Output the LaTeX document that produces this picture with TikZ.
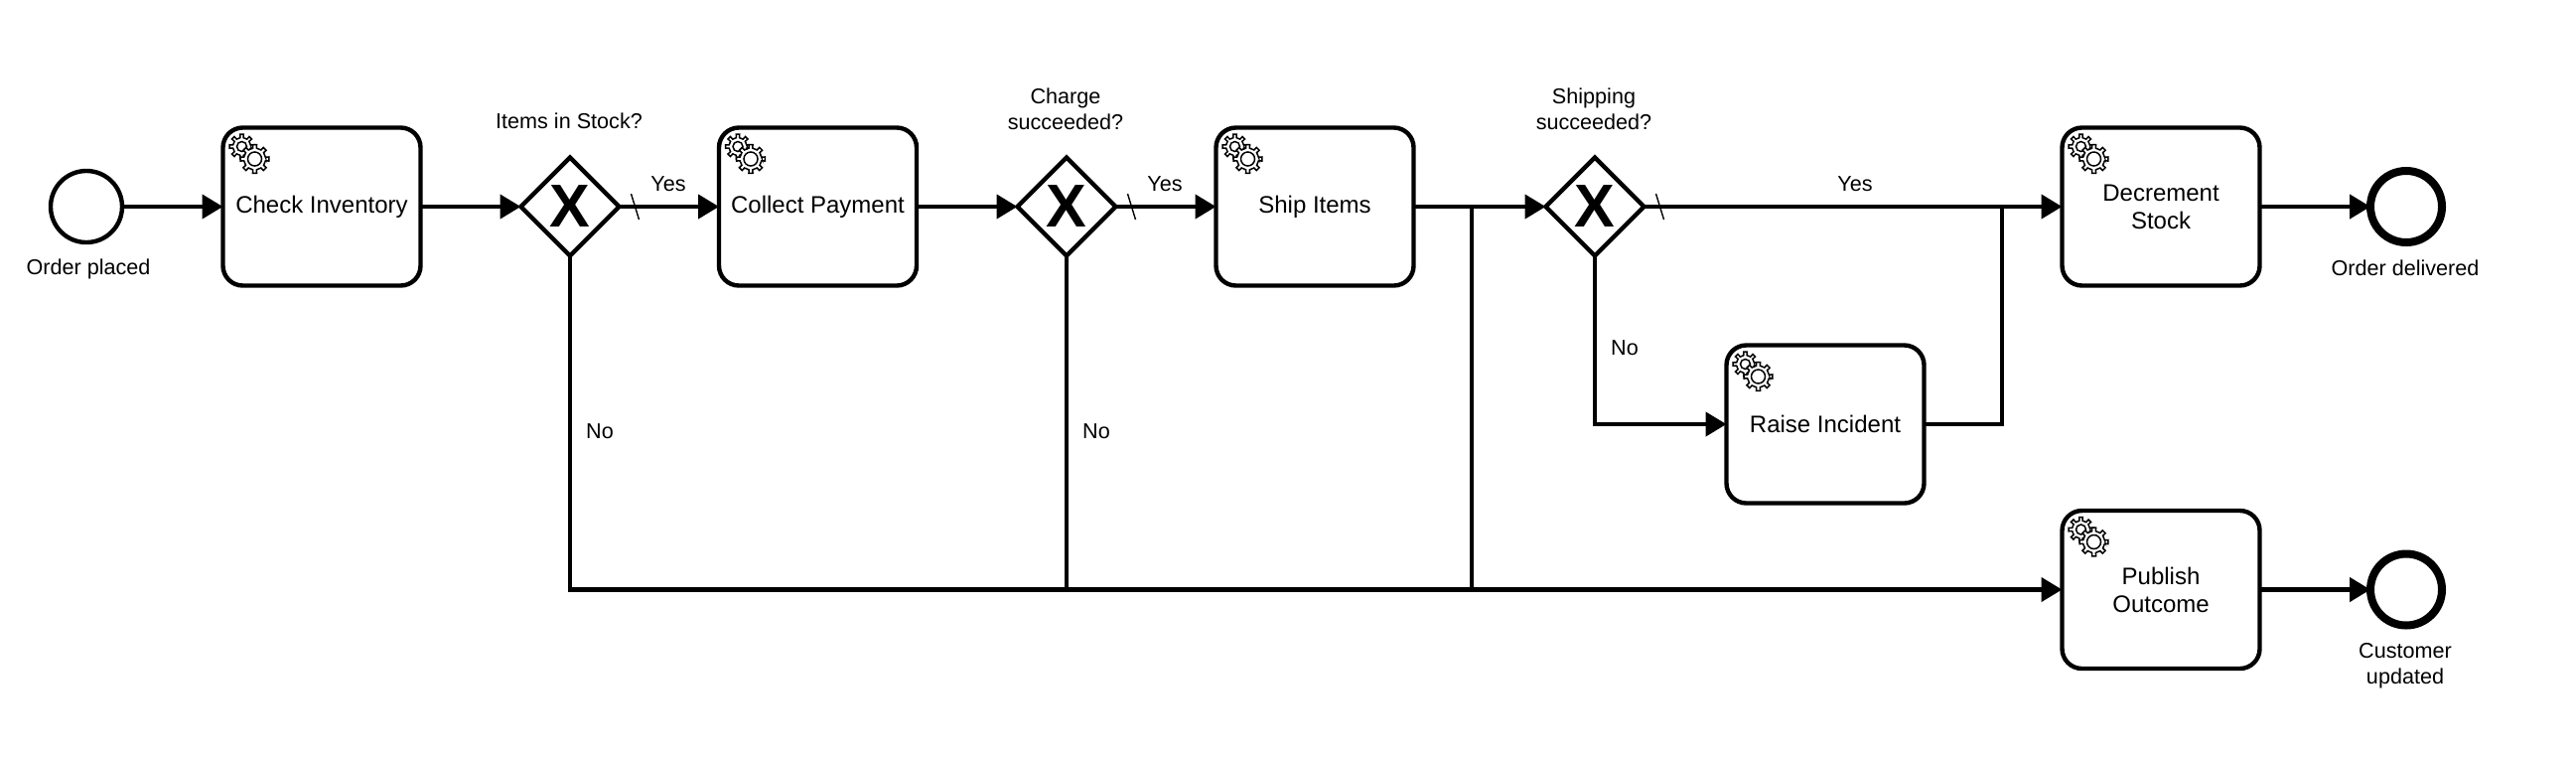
\documentclass[tikz,border=0pt]{standalone}
\usepackage{fontspec}
\setmainfont{Liberation Sans}
\usetikzlibrary{arrows.meta,shapes.geometric}
\tikzset{
  x=0.5pt,y=-0.5pt,
  bpmnline/.style={line width=2.2pt,draw=black},
  task/.style={bpmnline,rectangle,rounded corners=10pt,fill=white,minimum width=99.5pt,minimum height=79.5pt,inner sep=0pt,outer sep=0pt,align=center,font=\fontsize{12}{14}\selectfont},
  gateway/.style={bpmnline,diamond,aspect=1,minimum width=49.5pt,minimum height=49.5pt,inner sep=0pt,outer sep=0pt,fill=white,font=\fontsize{30.5}{31}\selectfont\bfseries},
  startev/.style={bpmnline,circle,minimum size=36pt,inner sep=0pt,outer sep=0pt,fill=white},
  endev/.style={line width=4pt,draw=black,circle,minimum size=36pt,inner sep=0pt,outer sep=0pt,fill=white},
  lbl/.style={inner sep=0pt,align=center,font=\fontsize{10.8}{13}\selectfont},
  flow/.style={bpmnline,-{Triangle[length=10.5pt,width=12pt]}},
  plainflow/.style={bpmnline},
  slashmark/.style={line width=0.7pt,draw=black},
  gears/.pic={
    \begin{scope}[shift={(19,19)}]
      \draw[line width=0.75pt,fill=white] (-9:9)
        \foreach \a in {0,45,...,315}{ -- ({\a-10}:9) -- ({\a-8}:12.5) -- ({\a+8}:12.5) -- ({\a+10}:9) } -- cycle;
      \draw[line width=0.75pt] (0,0) circle[radius=5];
    \end{scope}
    \begin{scope}[shift={(32,31.5)}]
      \draw[line width=0.75pt,fill=white] (-9:11)
        \foreach \a in {0,45,...,315}{ -- ({\a-10}:11) -- ({\a-8}:14.5) -- ({\a+8}:14.5) -- ({\a+10}:11) } -- cycle;
      \draw[line width=0.75pt] (0,0) circle[radius=7];
    \end{scope}
  }
}
\begin{document}
\begin{tikzpicture}
\useasboundingbox[fill=white] (0,0) rectangle (2594,762);

\node[startev] (start) at (87,208) {};
\node[task] (t1) at (324,208) {Check Inventory};
\node[gateway] (g1) at (574,208) {X};
\node[task] (t2) at (823.5,208) {Collect Payment};
\node[gateway] (g2) at (1074,208) {X};
\node[task] (t3) at (1324,208) {Ship Items};
\node[gateway] (g3) at (1606,208) {X};
\node[task] (t4) at (2176,208) {Decrement\\Stock};
\node[task] (t5) at (1838,427) {Raise Incident};
\node[task] (t6) at (2176,593.5) {Publish\\Outcome};
\node[endev] (e1) at (2423,208) {};
\node[endev] (e2) at (2423,593.5) {};

\foreach \t in {t1,t2,t3,t4,t5,t6}{ \pic at (\t.north west) {gears}; }

\coordinate (j1) at (1482,208);
\coordinate (j2) at (2016,208);

\draw[flow] (start) -- (t1);
\draw[flow] (t1) -- (g1);
\draw[flow] (g1) -- (t2);
\draw[flow] (t2) -- (g2);
\draw[flow] (g2) -- (t3);
\draw[flow] (t3) -- (g3);
\draw[flow] (g3) -- (t4);
\draw[flow] (t4) -- (e1);
\draw[flow] (t6) -- (e2);
\draw[flow] (g1.south) |- (t6.west);
\draw[plainflow] (g2.south) -- (g2.south |- t6.west);
\draw[plainflow] (j1) -- (j1 |- t6.west);
\draw[flow] (g3.south) |- (t5.west);
\draw[plainflow] (t5.east) -| (j2);

\draw[slashmark] ([shift={(12,-13)}]g1.east) -- ([shift={(20,13)}]g1.east);
\draw[slashmark] ([shift={(12,-13)}]g2.east) -- ([shift={(20,13)}]g2.east);
\draw[slashmark] ([shift={(12,-13)}]g3.east) -- ([shift={(20,13)}]g3.east);

\node[lbl] (l1) at (89,271) {Order placed};
\node[lbl] (l2) at (573,122) {Items in Stock?};
\node[lbl] (l3) at (1073,110) {Charge\\succeeded?};
\node[lbl] (l4) at (1605,110) {Shipping\\succeeded?};
\node[lbl] (l5) at (2422,270) {Order delivered};
\node[lbl] (l6) at (2422,670) {Customer\\updated};
\node[lbl] (y1) at (673,185) {Yes};
\node[lbl] (y2) at (1173,185) {Yes};
\node[lbl] (y3) at (1868,185) {Yes};
\node[lbl] (n1) at (604,434) {No};
\node[lbl] (n2) at (1104,434) {No};
\node[lbl] (n3) at (1636,350) {No};
\end{tikzpicture}
\end{document}
